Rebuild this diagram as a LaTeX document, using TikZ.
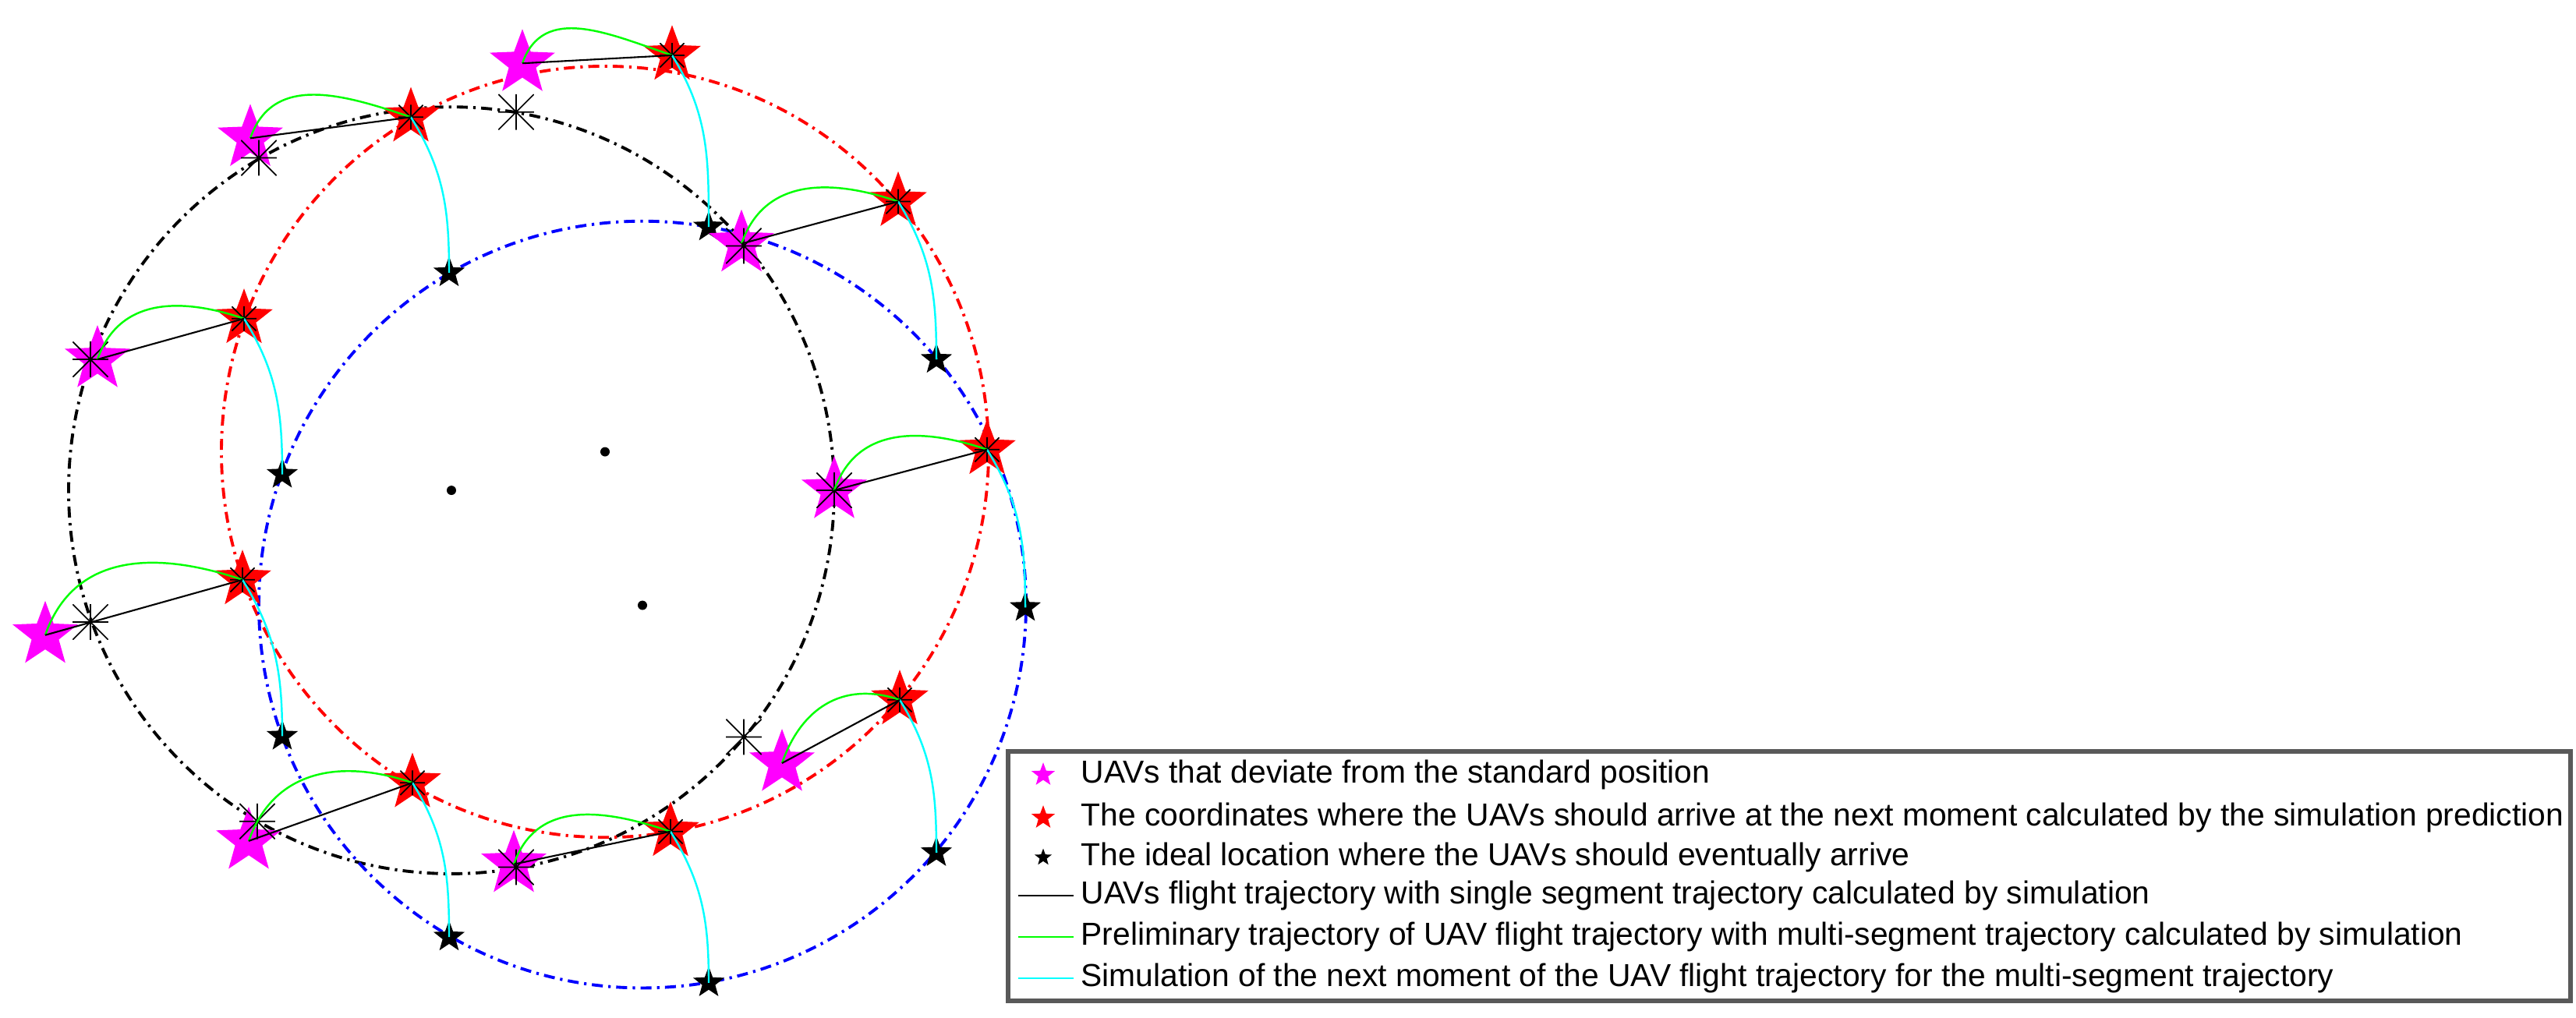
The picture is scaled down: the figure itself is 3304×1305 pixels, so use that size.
\documentclass[tikz,border=0pt]{standalone}
\usepackage{fontspec}
\setmainfont{Liberation Sans}
\usetikzlibrary{shapes.geometric}
\definecolor{mag}{RGB}{255,0,255}
\definecolor{cyn}{RGB}{0,255,255}
\definecolor{grn}{RGB}{0,255,0}
\definecolor{rd}{RGB}{255,0,0}
\definecolor{bl}{RGB}{0,0,255}
\begin{document}
\begin{tikzpicture}[x=0.01cm,y=0.01cm,
  circ/.style={line width=1.1pt,dash pattern=on 4pt off 2pt on 0.9pt off 2pt},
  st/.style={star,star points=5,star point ratio=2.4,inner sep=0pt},
  mstar/.style={st,fill=mag,minimum size=25pt},
  rstar/.style={st,fill=rd,minimum size=22pt},
  bstar/.style={st,fill=black,minimum size=12pt},
  ast/.style={draw=none,inner sep=0pt,minimum size=13pt,path picture={
     \draw[black,line width=0.5pt] (path picture bounding box.north) -- (path picture bounding box.south)
       (path picture bounding box.west) -- (path picture bounding box.east)
       ([shift={(0.2,-0.2)}]path picture bounding box.north west) -- ([shift={(-0.2,0.2)}]path picture bounding box.south east)
       ([shift={(-0.2,-0.2)}]path picture bounding box.north east) -- ([shift={(0.2,0.2)}]path picture bounding box.south west);}},
  seg/.style={black,line width=0.6pt},
  grnl/.style={grn,line width=0.7pt},
  cynl/.style={cyn,line width=0.7pt},
  lg/.style={anchor=west,font=\fontsize{11.6}{14}\selectfont,inner sep=0pt}]
\useasboundingbox (0,0) rectangle (3304,-1305);
\begin{scope}[yscale=0.9333]
% circles
\draw[circ,black] (579,-674) ellipse [x radius=491,y radius=527];
\draw[circ,rd] (776,-621) ellipse [x radius=492,y radius=530];
\draw[circ,bl] (824,-831) ellipse [x radius=492,y radius=527];
\fill (579,-674) circle [x radius=6,y radius=6.4] (776,-621) circle [x radius=6,y radius=6.4] (824,-832) circle [x radius=6,y radius=6.4];
% UAVs
\foreach \i/\mx/\my/\ax/\ay/\rx/\ry/\bx/\by in {
 1/670/87/662/154/862/76/909/312,
 2/321/190/332/217/527/161/576/375,
 3/951/335/954/338/1152/277/1201/494,
 4/125/494/116/494/313/438/362/652,
 5/1070/674/1070/674/1266/618/1315/835,
 6/58/873/116/855/311/797/362/1012,
 7/1003/1049/954/1013/1154/962/1201/1172,
 8/319/1156/330/1129/529/1076/576/1288,
 9/659/1188/662/1192/860/1143/909/1351}{
  \node[mstar] (m\i) at (\mx,-\my) {};
  \node[rstar] (r\i) at (\rx,-\ry) {};
  \node[bstar] (b\i) at (\bx,-\by) {};
  \node[ast] (a\i) at (\ax,-\ay) {};
  \node[ast,minimum size=9pt] (ra\i) at (\rx,-\ry) {};
  \draw[grnl] (m\i.center) to[out=72,in=160,looseness=1.15] (r\i.center);
  \draw[cynl] (r\i.center) to[out=-60,in=90] (b\i.center);
  \draw[seg] (m\i.center) -- (r\i.center);
}
\end{scope}
% legend
\draw[gray!70!black,line width=1.5pt,fill=white] (1293,-964) rectangle (3297,-1284);
\node[st,fill=mag,minimum size=9pt] (lm) at (1338,-994) {};
\node[st,fill=rd,minimum size=9pt] (lr) at (1338,-1049) {};
\node[st,fill=black,minimum size=6.5pt] (lb) at (1338,-1100) {};
\coordinate (l1a) at (1306,-1149); \coordinate (l1b) at (1377,-1149);
\coordinate (l2a) at (1306,-1202); \coordinate (l2b) at (1377,-1202);
\coordinate (l3a) at (1306,-1255); \coordinate (l3b) at (1377,-1255);
\draw[seg] (l1a) -- (l1b);
\draw[grnl] (l2a) -- (l2b);
\draw[cynl] (l3a) -- (l3b);
\node[lg] (t1) at (1386,-994) {UAVs that deviate from the standard position};
\node[lg] (t2) at (1386,-1049) {The coordinates where the UAVs should arrive at the next moment calculated by the simulation prediction};
\node[lg] (t3) at (1386,-1100) {The ideal location where the UAVs should eventually arrive};
\node[lg] (t4) at (1386,-1149) {UAVs flight trajectory with single segment trajectory calculated by simulation};
\node[lg] (t5) at (1386,-1202) {Preliminary trajectory of UAV flight trajectory with multi-segment trajectory calculated by simulation};
\node[lg] (t6) at (1386,-1255) {Simulation of the next moment of the UAV flight trajectory for the multi-segment trajectory};
\end{tikzpicture}
\end{document}
